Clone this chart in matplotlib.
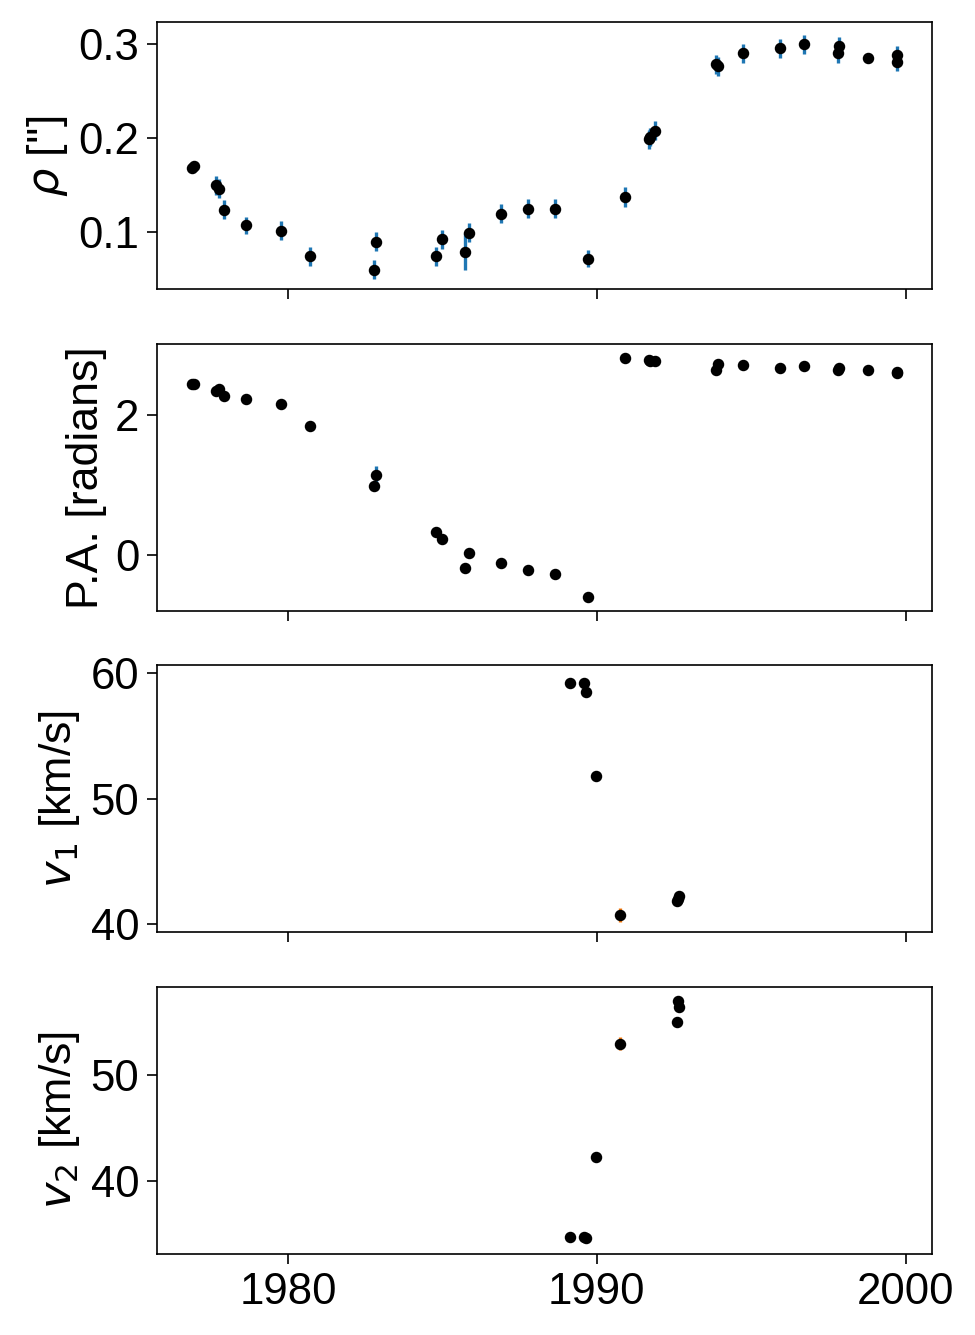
import numpy as np
import matplotlib
matplotlib.use("Agg")
import matplotlib.pyplot as plt

plt.rcParams["font.family"] = ["Liberation Sans", "DejaVu Sans"]
plt.rcParams["font.size"] = 21
plt.rcParams["axes.labelsize"] = 21.5
plt.rcParams["xtick.major.size"] = 5
plt.rcParams["ytick.major.size"] = 5

# astrometric observations
t_ast = [1976.90, 1976.96, 1977.66, 1977.76, 1977.94, 1978.64, 1979.78, 1980.71,
         1982.80, 1982.85, 1984.80, 1984.99, 1985.74, 1985.85, 1986.90, 1987.78,
         1988.65, 1989.72, 1990.92, 1991.70, 1991.73, 1991.90, 1993.86, 1993.92,
         1994.73, 1995.92, 1996.70, 1997.81, 1997.83, 1998.78, 1999.72, 1999.72]
rho = [0.168, 0.1705, 0.150, 0.1465, 0.124, 0.1074, 0.1018, 0.0745,
       0.0603, 0.090, 0.0745, 0.0926, 0.0794, 0.0997, 0.120, 0.125,
       0.1252, 0.072, 0.1376, 0.199, 0.2014, 0.208, 0.2784, 0.2763,
       0.290, 0.2954, 0.2997, 0.290, 0.298, 0.2848, 0.288, 0.281]
rho_err = [0.004, 0.004, 0.010, 0.010, 0.010, 0.009, 0.010, 0.010,
           0.010, 0.010, 0.010, 0.010, 0.0195, 0.010, 0.010, 0.010,
           0.010, 0.009, 0.0105, 0.010, 0.010, 0.010, 0.010, 0.010,
           0.010, 0.010, 0.010, 0.010, 0.010, 0.004, 0.010, 0.010]
theta = [2.437, 2.437, 2.35, 2.375, 2.27, 2.233, 2.16, 1.85,
         0.996, 1.152, 0.327, 0.228, -0.185, 0.033, -0.11, -0.209,
         -0.27, -0.593, 2.81, 2.778, 2.772, 2.764, 2.636, 2.721,
         2.707, 2.674, 2.693, 2.646, 2.674, 2.636, 2.603, 2.608]
theta_err = [0.01, 0.01, 0.01, 0.01, 0.01, 0.01, 0.01, 0.01,
             0.01, 0.12, 0.01, 0.01, 0.01, 0.01, 0.01, 0.01,
             0.01, 0.01, 0.01, 0.01, 0.01, 0.01, 0.01, 0.01,
             0.01, 0.01, 0.01, 0.01, 0.01, 0.01, 0.01, 0.01]

# radial velocities
t_rv = [1989.12, 1989.60, 1989.64, 1989.99, 1990.76, 1992.59, 1992.62, 1992.66]
v1 = [59.18, 59.18, 58.51, 51.77, 40.77, 41.85, 42.05, 42.3]
v1_err = [0.3, 0.3, 0.3, 0.3, 0.55, 0.3, 0.3, 0.3]
v2 = [34.69, 34.69, 34.65, 42.24, 52.9, 54.97, 56.9, 56.35]
v2_err = [0.3, 0.3, 0.3, 0.3, 0.6, 0.3, 0.3, 0.3]

fig, ax = plt.subplots(4, 1, figsize=(6.5, 8.9), sharex=True)
fig.subplots_adjust(left=0.161, right=0.956, top=0.9835, bottom=0.0607, hspace=0.202)

ax[0].errorbar(t_ast, rho, yerr=rho_err, fmt=".k", ecolor="C0", elinewidth=1.6, ms=9)
ax[0].set_ylabel(r"$\rho$ ['']")

ax[1].errorbar(t_ast, theta, yerr=theta_err, fmt=".k", ecolor="C0", elinewidth=1.6, ms=9)
ax[1].set_ylabel("P.A. [radians]")

ax[2].errorbar(t_rv, v1, yerr=v1_err, fmt=".k", ecolor="C1", elinewidth=1.6, ms=9)
ax[2].set_ylabel(r"$v_1$ [km/s]")

ax[3].errorbar(t_rv, v2, yerr=v2_err, fmt=".k", ecolor="C1", elinewidth=1.6, ms=9)
ax[3].set_ylabel(r"$v_2$ [km/s]")

ax[0].set_ylim(0.0394, 0.3234)
ax[1].set_ylim(-0.792, 3.02)
ax[2].set_ylim(39.36, 60.64)
ax[3].set_ylim(33.1, 58.3)
ax[3].set_xticks([1980, 1990, 2000])

fig.savefig("out.png", dpi=150)
